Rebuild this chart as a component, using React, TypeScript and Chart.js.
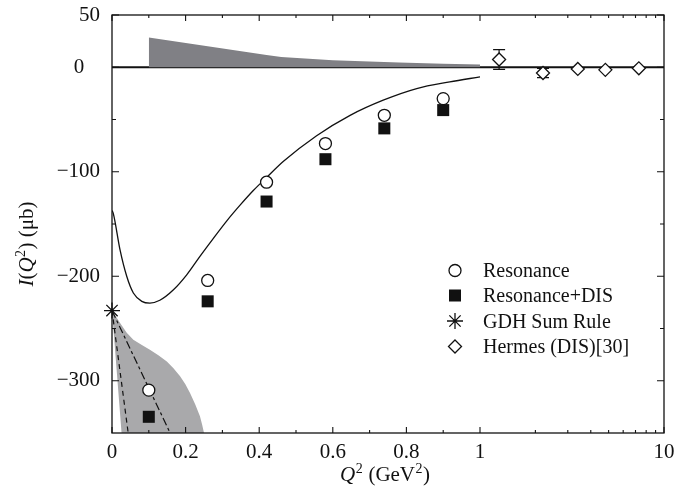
import React, { useEffect, useRef } from 'react';
import { Chart, registerables } from 'chart.js';

Chart.register(...registerables);

const FONT = "'Liberation Serif', 'Times New Roman', serif";
const INK = '#111111';

// ---------- data ----------
const resQ2 = [0.1, 0.26, 0.42, 0.58, 0.74, 0.9];
const resI = [-309, -204, -110, -73, -46, -30];
const resErr = [8, 0, 0, 0, 0, 0];

const resDisQ2 = [0.1, 0.26, 0.42, 0.58, 0.74, 0.9];
const resDisI = [-334.5, -224, -128.5, -88, -58.5, -41];
const resDisErr = [7.5, 0, 0, 0, 0, 0];

const gdhQ2 = [0];
const gdhI = [-232.8];

const hermesQ2 = [1.27, 2.2, 3.4, 4.8, 7.3];
const hermesI = [7.4, -5.5, -1.6, -2.5, -1];
const hermesErr = [9.5, 4.5, 0, 0, 0];

const curveQ2 = [0, 0.0036, 0.022, 0.04, 0.058, 0.081, 0.103, 0.13, 0.167, 0.203, 0.239, 0.275, 0.312, 0.348, 0.384, 0.42, 0.466, 0.556, 0.647, 0.737, 0.828, 0.918, 1.0];
const curveI = [-137, -140, -175, -200, -216, -224, -225.7, -223, -213, -198.7, -181, -164, -147, -132, -118, -105.5, -90, -65.5, -46, -31.5, -20.4, -14, -9.2];

const bandHighQ2 = [0.1, 0.26, 0.42, 0.46, 0.6, 0.78, 0.9, 1.0];
const bandHighI = [28.4, 20.2, 11.8, 9.8, 6.7, 4.5, 3.4, 2.6];

const bandLowQ2 = [0, 0.026, 0.25, 0.245, 0.239, 0.226, 0.212, 0.199, 0.185, 0.167, 0.149, 0.126, 0.103, 0.08, 0.058, 0.04, 0.022, 0];
const bandLowI = [-232.8, -350, -350, -342, -334, -322.5, -311.7, -303, -295.8, -288, -281.5, -275.5, -270.3, -265.5, -260.7, -254, -244.8, -232.8];

const slopeAQ2 = [0, 0.044];
const slopeAI = [-232.8, -350];
const slopeBQ2 = [0, 0.158];
const slopeBI = [-232.8, -350];

const xMajorTicks = [0, 0.2, 0.4, 0.6, 0.8, 1, 10];
const xTickLabels = ['0', '0.2', '0.4', '0.6', '0.8', '1', '10'];
const xMinorTicks = [0.1, 0.3, 0.5, 0.7, 0.9, 2, 3, 4, 5, 6, 7, 8, 9];
const yMajorTicks = [-300, -200, -100, 0, 50];
const yTickLabels = ['\u2212300', '\u2212200', '\u2212100', '0   ', '50'];
const yMinorTicks = [-250, -150, -50];

const legendLabels = ['Resonance', 'Resonance+DIS', 'GDH Sum Rule', 'Hermes (DIS)[30]'];

// hybrid axis: linear 0..1, then log 1..10 over half the width
const toT = (q: number) => (q <= 1 ? q : 1 + 0.5 * Math.log10(q));
const pts = (qs: number[], vs: number[]) => qs.map((q, i) => ({ x: toT(q), y: vs[i] }));

type Seg = { t: string; it?: boolean; sup?: boolean };
const xTitle: Seg[] = [{ t: 'Q', it: true }, { t: '2', sup: true }, { t: ' (GeV' }, { t: '2', sup: true }, { t: ')' }];
const yTitle: Seg[] = [{ t: 'I', it: true }, { t: '(' }, { t: 'Q', it: true }, { t: '2', sup: true }, { t: ') (\u03bcb)' }];

function segFont(s: Seg) {
  if (s.sup) return `14px ${FONT}`;
  return `${s.it ? 'italic ' : ''}21px ${FONT}`;
}

function drawRich(ctx: CanvasRenderingContext2D, segs: Seg[], cx: number, baseY: number) {
  let total = 0;
  const widths = segs.map((s) => {
    ctx.font = segFont(s);
    const w = ctx.measureText(s.t).width + (s.sup ? 1 : 0);
    total += w;
    return w;
  });
  let x = cx - total / 2;
  ctx.textAlign = 'left';
  ctx.textBaseline = 'alphabetic';
  segs.forEach((s, i) => {
    ctx.font = segFont(s);
    ctx.fillText(s.t, x + (s.sup ? 0.5 : 0), s.sup ? baseY - 8 : baseY);
    x += widths[i];
  });
}

const errorBarPlugin = {
  id: 'errorBars',
  beforeDatasetsDraw(chart: any) {
    const { ctx, scales } = chart;
    const x = scales.x;
    const y = scales.y;
    ctx.save();
    const a = chart.chartArea;
    const y0 = y.getPixelForValue(0);
    ctx.strokeStyle = INK;
    ctx.lineWidth = 1.8;
    ctx.beginPath();
    ctx.moveTo(a.left, y0);
    ctx.lineTo(a.right, y0);
    ctx.stroke();
    ctx.lineWidth = 1.2;
    chart.data.datasets.forEach((ds: any) => {
      if (!ds.errors) return;
      ds.data.forEach((p: any, i: number) => {
        const e = ds.errors[i];
        if (!e) return;
        const px = x.getPixelForValue(p.x);
        const yt = y.getPixelForValue(p.y + e);
        const yb = y.getPixelForValue(p.y - e);
        ctx.beginPath();
        ctx.moveTo(px, yt);
        ctx.lineTo(px, yb);
        ctx.moveTo(px - 6, yt);
        ctx.lineTo(px + 6, yt);
        ctx.moveTo(px - 6, yb);
        ctx.lineTo(px + 6, yb);
        ctx.stroke();
      });
    });
    ctx.restore();
  },
};

function drawMarker(ctx: CanvasRenderingContext2D, kind: string, x: number, y: number) {
  ctx.save();
  ctx.strokeStyle = INK;
  ctx.fillStyle = INK;
  ctx.lineWidth = 1.3;
  ctx.beginPath();
  if (kind === 'circle') {
    ctx.arc(x, y, 6, 0, Math.PI * 2);
    ctx.fillStyle = '#fff';
    ctx.fill();
    ctx.stroke();
  } else if (kind === 'rect') {
    ctx.fillRect(x - 6, y - 6, 12, 12);
  } else if (kind === 'star') {
    const r = 8;
    for (let k = 0; k < 4; k++) {
      const ang = (k * Math.PI) / 4;
      ctx.moveTo(x - r * Math.cos(ang), y - r * Math.sin(ang));
      ctx.lineTo(x + r * Math.cos(ang), y + r * Math.sin(ang));
    }
    ctx.stroke();
  } else if (kind === 'diamond') {
    const r = 6.5;
    ctx.moveTo(x, y - r);
    ctx.lineTo(x + r, y);
    ctx.lineTo(x, y + r);
    ctx.lineTo(x - r, y);
    ctx.closePath();
    ctx.fillStyle = '#fff';
    ctx.fill();
    ctx.stroke();
  }
  ctx.restore();
}

const framePlugin = {
  id: 'frame',
  afterDraw(chart: any) {
    const { ctx, chartArea: a, scales } = chart;
    const x = scales.x;
    const y = scales.y;
    ctx.save();
    ctx.strokeStyle = INK;
    ctx.lineWidth = 1.3;
    ctx.strokeRect(a.left, a.top, a.right - a.left, a.bottom - a.top);
    ctx.lineWidth = 1.1;
    ctx.beginPath();
    const xt = (q: number, len: number) => {
      const px = x.getPixelForValue(toT(q));
      ctx.moveTo(px, a.bottom);
      ctx.lineTo(px, a.bottom - len);
      ctx.moveTo(px, a.top);
      ctx.lineTo(px, a.top + len);
    };
    const yt = (v: number, len: number) => {
      const py = y.getPixelForValue(v);
      ctx.moveTo(a.left, py);
      ctx.lineTo(a.left + len, py);
      ctx.moveTo(a.right, py);
      ctx.lineTo(a.right - len, py);
    };
    xMajorTicks.forEach((q) => xt(q, 6));
    xMinorTicks.forEach((q) => xt(q, 3));
    yMajorTicks.forEach((v) => yt(v, 7));
    yMinorTicks.forEach((v) => yt(v, 4));
    ctx.stroke();

    // legend
    const kinds = ['circle', 'rect', 'star', 'diamond'];
    const lx = a.left + 343;
    const tx = a.left + 371;
    const rows = [270.5, 295.5, 321, 346.5];
    legendLabels.forEach((lab, i) => {
      drawMarker(ctx, kinds[i], lx, rows[i]);
      ctx.font = `20px ${FONT}`;
      ctx.textAlign = 'left';
      ctx.textBaseline = 'alphabetic';
      ctx.fillStyle = INK;
      ctx.fillText(lab, tx, rows[i] + 6.5);
    });

    // axis titles
    ctx.fillStyle = INK;
    drawRich(ctx, xTitle, (a.left + a.right) / 2 - 3, 481);
    ctx.save();
    ctx.translate(33, 244);
    ctx.rotate(-Math.PI / 2);
    drawRich(ctx, yTitle, 0, 0);
    ctx.restore();
    ctx.restore();
  },
};

const zeroPad = (axis: any) => {
  axis.paddingTop = 0;
  axis.paddingBottom = 0;
  axis.paddingLeft = 0;
  axis.paddingRight = 0;
};

export default function App() {
  const ref = useRef<HTMLCanvasElement | null>(null);

  useEffect(() => {
    if (!ref.current) return;
    const chart = new Chart(ref.current, {
      type: 'line',
      data: {
        datasets: [
          {
            label: 'GDH Sum Rule',
            data: pts(gdhQ2, gdhI),
            showLine: false,
            pointStyle: 'star',
            pointRadius: 8,
            pointBorderColor: INK,
            pointBorderWidth: 1.3,
            clip: false,
          } as any,
          {
            label: 'Resonance',
            data: pts(resQ2, resI),
            errors: resErr,
            showLine: false,
            pointStyle: 'circle',
            pointRadius: 6,
            pointBackgroundColor: '#ffffff',
            pointBorderColor: INK,
            pointBorderWidth: 1.3,
          },
          {
            label: 'Resonance+DIS',
            data: pts(resDisQ2, resDisI),
            errors: resDisErr,
            showLine: false,
            pointStyle: 'rect',
            pointRadius: 8.5,
            pointBackgroundColor: INK,
            pointBorderColor: INK,
            pointBorderWidth: 0,
          },
          {
            label: 'Hermes (DIS)[30]',
            data: pts(hermesQ2, hermesI),
            errors: hermesErr,
            showLine: false,
            pointStyle: 'rectRot',
            pointRadius: 6.5,
            pointBackgroundColor: '#ffffff',
            pointBorderColor: INK,
            pointBorderWidth: 1.3,
          },
          {
            label: 'curve',
            data: pts(curveQ2, curveI),
            borderColor: INK,
            borderWidth: 1.3,
            pointRadius: 0,
            cubicInterpolationMode: 'monotone',
            fill: false,
          },
          {
            label: 'slopeA',
            data: pts(slopeAQ2, slopeAI),
            borderColor: INK,
            borderWidth: 1.2,
            borderDash: [5, 4],
            pointRadius: 0,
            fill: false,
          },
          {
            label: 'slopeB',
            data: pts(slopeBQ2, slopeBI),
            borderColor: INK,
            borderWidth: 1.2,
            borderDash: [8, 3, 3, 3],
            pointRadius: 0,
            fill: false,
          },
          {
            label: 'bandHigh',
            data: pts(bandHighQ2, bandHighI),
            borderWidth: 0,
            borderColor: 'rgba(0,0,0,0)',
            backgroundColor: '#808085',
            pointRadius: 0,
            fill: 'origin',
          },
          {
            label: 'bandLow',
            data: pts(bandLowQ2, bandLowI),
            borderWidth: 0,
            borderColor: 'rgba(0,0,0,0)',
            backgroundColor: '#a9a9ab',
            pointRadius: 0,
            fill: 'shape',
          },
        ] as any,
      },
      options: {
        responsive: false,
        animation: false,
        events: [],
        layout: { padding: { left: 0, right: 27, top: 15, bottom: 0 } },
        plugins: { legend: { display: false }, tooltip: { enabled: false } },
        scales: {
          x: {
            type: 'linear',
            min: 0,
            max: 1.5,
            grid: { display: false, drawTicks: false },
            border: { display: false },
            afterBuildTicks: (axis: any) => {
              axis.ticks = xMajorTicks.map((q) => ({ value: toT(q) }));
            },
            afterFit: (axis: any) => {
              axis.height = 58;
              zeroPad(axis);
            },
            ticks: {
              autoSkip: false,
              maxRotation: 0,
              padding: 7,
              color: INK,
              font: { family: FONT, size: 21 },
              callback: (_v: any, i: number) => xTickLabels[i],
            },
          },
          y: {
            type: 'linear',
            min: -350,
            max: 50,
            grid: { display: false, drawTicks: false },
            border: { display: false },
            afterBuildTicks: (axis: any) => {
              axis.ticks = yMajorTicks.map((v) => ({ value: v }));
            },
            afterFit: (axis: any) => {
              axis.width = 112;
              zeroPad(axis);
            },
            ticks: {
              autoSkip: false,
              padding: 12,
              color: INK,
              font: { family: FONT, size: 21 },
              callback: (_v: any, i: number) => yTickLabels[i],
            },
          },
        },
      } as any,
      plugins: [errorBarPlugin, framePlugin],
    });
    return () => chart.destroy();
  }, []);

  return (
    <div style={{ position: 'absolute', left: 0, top: 0, width: 691, height: 491, background: '#ffffff' }}>
      <canvas ref={ref} width={691} height={491} style={{ display: 'block' }} />
    </div>
  );
}
